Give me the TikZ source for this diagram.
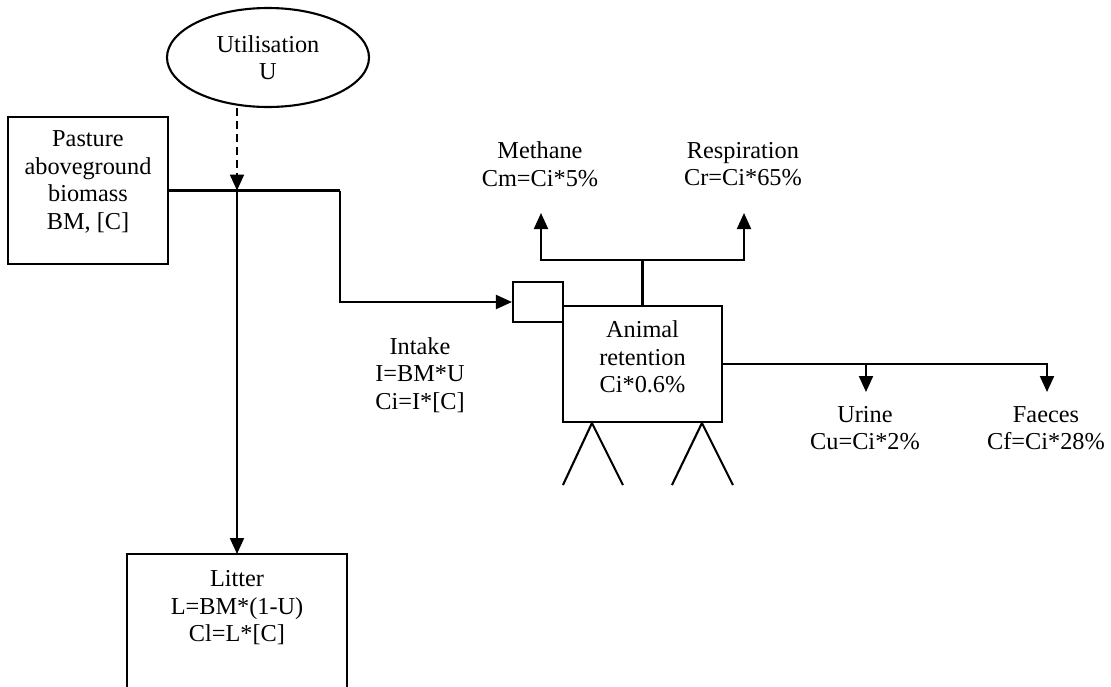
\documentclass[tikz,border=0pt]{standalone}
\usepackage{fontspec}
\setmainfont{Liberation Serif}
\usetikzlibrary{shapes.geometric,arrows.meta}
\begin{document}
\begin{tikzpicture}[x=1pt,y=-1pt,
  line width=2.1pt,
  every node/.style={font=\fontsize{24.3}{27.5}\selectfont, align=center, inner sep=0pt},
  boxnode/.style={draw, rectangle, line width=2.1pt},
  arr/.style={-{Triangle[length=16pt,width=14pt]}},
  dasharr/.style={-{Triangle[length=16pt,width=14pt]}, dash pattern=on 8pt off 5pt}]
\useasboundingbox (0,0) rectangle (1111,686);
% Utilisation ellipse
\node[draw, ellipse, line width=2.1pt, minimum width=202pt, minimum height=99pt] (U) at (268,57.5) {Utilisation\\U};
% Pasture box
\node[boxnode, minimum width=160pt, minimum height=147pt] (bm) at (88,190.5) {};
\node (bmtext) at (88,182) {Pasture\\aboveground\\biomass\\BM, [C]};
% Small box and animal box
\node[boxnode, minimum width=50pt, minimum height=40pt] (small) at (538,302) {};
\node[boxnode, minimum width=159pt, minimum height=116pt] (animal) at (642.5,364) {};
\node (animaltext) at (642.5,357) {Animal\\retention\\Ci*0.6\%};
% Litter box (bottom cut off)
\node[minimum width=218pt, minimum height=134pt, anchor=north] (litter) at (237,554) {};
\draw (litter.south west) -- (litter.north west) -- (litter.north east) -- (litter.south east);
\node (littertext) at (237,608) {Litter\\L=BM*(1-U)\\Cl=L*[C]};
% Labels
\node (intake) at (420,375) {Intake\\I=BM*U\\Ci=I*[C]};
\node (methane) at (540,164) {Methane\\Cm=Ci*5\%};
\node (resp) at (743,164) {Respiration\\Cr=Ci*65\%};
\node (urine) at (865,428) {Urine\\Cu=Ci*2\%};
\node (faeces) at (1046,428) {Faeces\\Cf=Ci*28\%};
% Coordinates
\coordinate (j1) at (237,190.5);
\coordinate (turn) at (340,190.5);
\coordinate (top) at (642.5,260);
\coordinate (mtip) at (541,213);
\coordinate (rtip) at (744,213);
\coordinate (uj) at (866,364);
\coordinate (utip) at (866,392);
\coordinate (ftip) at (1047,392);
% Connectors
\draw[dasharr] (j1 |- U.south) -- (j1);
\draw (bm.east) -- (turn);
\draw[arr] (turn) |- (small.west);
\draw[arr] (j1) -- (litter.north);
\draw (animal.north) -- (top);
\draw[arr] (top) -| (mtip);
\draw[arr] (top) -| (rtip);
\draw[arr] (animal.east) -| (ftip);
\draw[arr] (uj) -- (utip);
% Legs
\draw ([xshift=1pt,yshift=-62pt]animal.south west) -- ([xshift=30pt]animal.south west) -- ([xshift=61pt,yshift=-62pt]animal.south west);
\draw ([xshift=110pt,yshift=-62pt]animal.south west) -- ([xshift=140pt]animal.south west) -- ([xshift=171pt,yshift=-62pt]animal.south west);
\end{tikzpicture}
\end{document}
